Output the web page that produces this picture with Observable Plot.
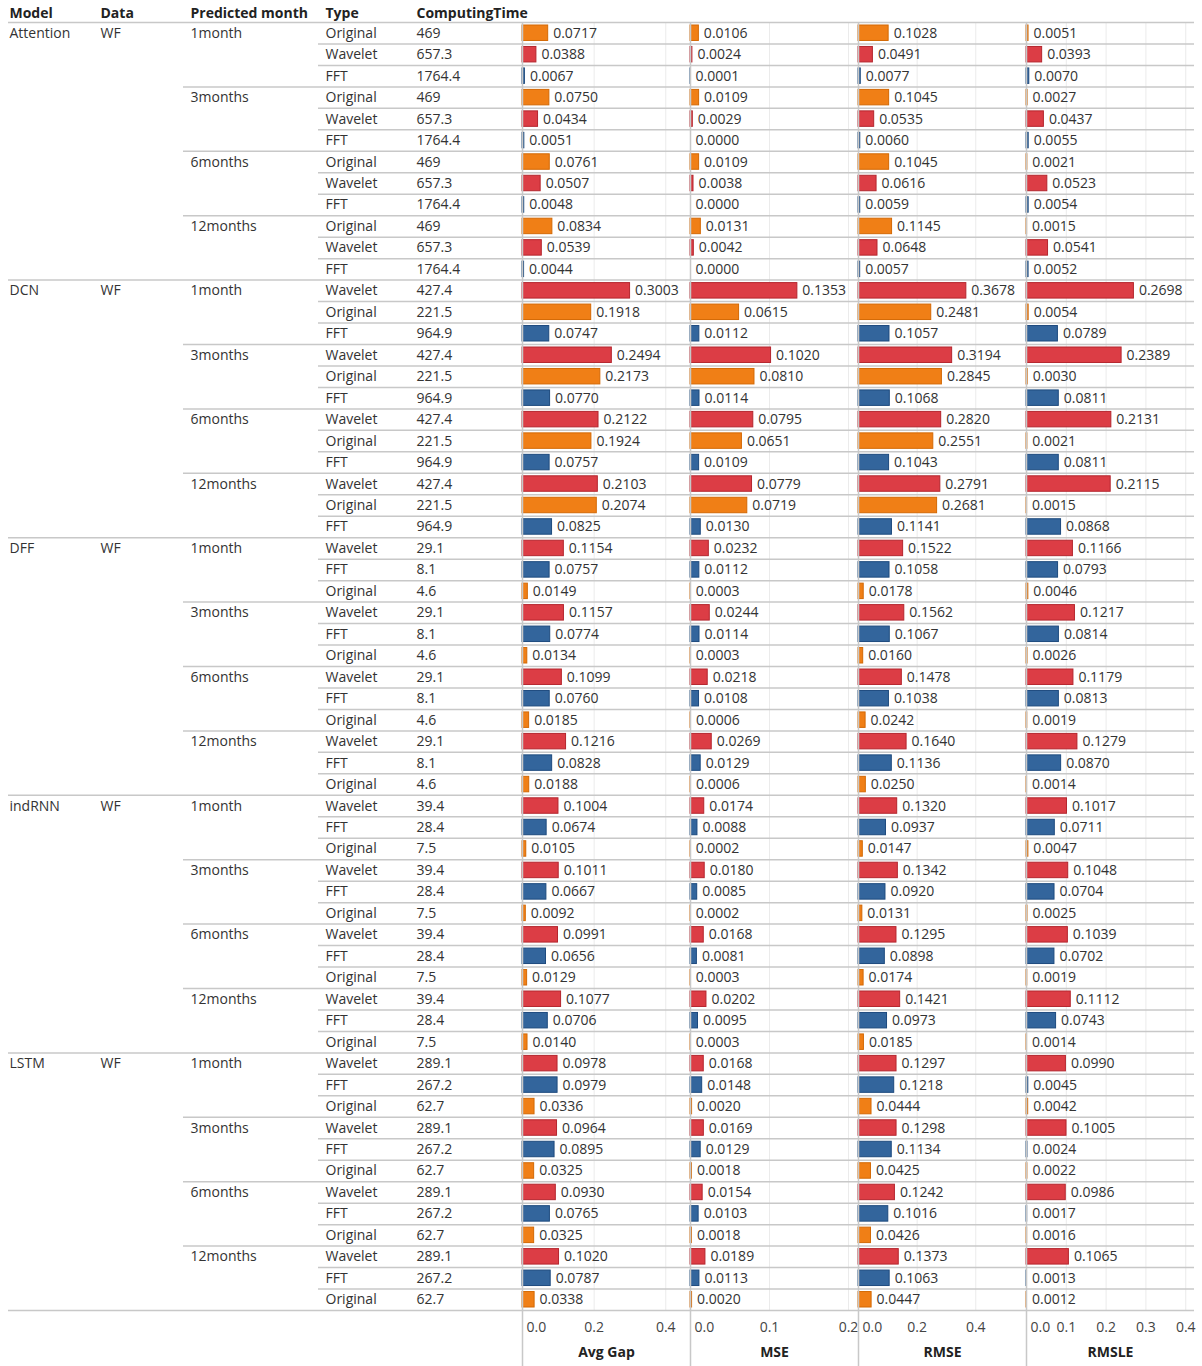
<!DOCTYPE html>
<html>
<head>
<meta charset="utf-8">
<script src="https://cdn.jsdelivr.net/npm/d3@7"></script>
<script src="https://cdn.jsdelivr.net/npm/@observablehq/plot@0.6"></script>
<style>
  html, body { margin: 0; padding: 0; background: #fff; }
  #chart { display: flex; width: 1202px; height: 1366px; }
  #chart svg { flex: none; overflow: visible; }
</style>
</head>
<body>
<div id="chart"></div>
<script>
// ---------------- DATA ----------------
const models = ["Attention", "DCN", "DFF", "indRNN", "LSTM"];
const dataName = "WF";
const months = ["1month", "3months", "6months", "12months"];
const typeOrder = [
  ["Original", "Wavelet", "FFT"],
  ["Wavelet", "Original", "FFT"],
  ["Wavelet", "FFT", "Original"],
  ["Wavelet", "FFT", "Original"],
  ["Wavelet", "FFT", "Original"]
];
const computingTime = [
  [469, 657.3, 1764.4],
  [427.4, 221.5, 964.9],
  [29.1, 8.1, 4.6],
  [39.4, 28.4, 7.5],
  [289.1, 267.2, 62.7]
];
// values in row order: model > month > type
const avgGap = [
  0.0717, 0.0388, 0.0067,  0.0750, 0.0434, 0.0051,  0.0761, 0.0507, 0.0048,  0.0834, 0.0539, 0.0044,
  0.3003, 0.1918, 0.0747,  0.2494, 0.2173, 0.0770,  0.2122, 0.1924, 0.0757,  0.2103, 0.2074, 0.0825,
  0.1154, 0.0757, 0.0149,  0.1157, 0.0774, 0.0134,  0.1099, 0.0760, 0.0185,  0.1216, 0.0828, 0.0188,
  0.1004, 0.0674, 0.0105,  0.1011, 0.0667, 0.0092,  0.0991, 0.0656, 0.0129,  0.1077, 0.0706, 0.0140,
  0.0978, 0.0979, 0.0336,  0.0964, 0.0895, 0.0325,  0.0930, 0.0765, 0.0325,  0.1020, 0.0787, 0.0338
];
const mse = [
  0.0106, 0.0024, 0.0001,  0.0109, 0.0029, 0.0000,  0.0109, 0.0038, 0.0000,  0.0131, 0.0042, 0.0000,
  0.1353, 0.0615, 0.0112,  0.1020, 0.0810, 0.0114,  0.0795, 0.0651, 0.0109,  0.0779, 0.0719, 0.0130,
  0.0232, 0.0112, 0.0003,  0.0244, 0.0114, 0.0003,  0.0218, 0.0108, 0.0006,  0.0269, 0.0129, 0.0006,
  0.0174, 0.0088, 0.0002,  0.0180, 0.0085, 0.0002,  0.0168, 0.0081, 0.0003,  0.0202, 0.0095, 0.0003,
  0.0168, 0.0148, 0.0020,  0.0169, 0.0129, 0.0018,  0.0154, 0.0103, 0.0018,  0.0189, 0.0113, 0.0020
];
const rmse = [
  0.1028, 0.0491, 0.0077,  0.1045, 0.0535, 0.0060,  0.1045, 0.0616, 0.0059,  0.1145, 0.0648, 0.0057,
  0.3678, 0.2481, 0.1057,  0.3194, 0.2845, 0.1068,  0.2820, 0.2551, 0.1043,  0.2791, 0.2681, 0.1141,
  0.1522, 0.1058, 0.0178,  0.1562, 0.1067, 0.0160,  0.1478, 0.1038, 0.0242,  0.1640, 0.1136, 0.0250,
  0.1320, 0.0937, 0.0147,  0.1342, 0.0920, 0.0131,  0.1295, 0.0898, 0.0174,  0.1421, 0.0973, 0.0185,
  0.1297, 0.1218, 0.0444,  0.1298, 0.1134, 0.0425,  0.1242, 0.1016, 0.0426,  0.1373, 0.1063, 0.0447
];
const rmsle = [
  0.0051, 0.0393, 0.0070,  0.0027, 0.0437, 0.0055,  0.0021, 0.0523, 0.0054,  0.0015, 0.0541, 0.0052,
  0.2698, 0.0054, 0.0789,  0.2389, 0.0030, 0.0811,  0.2131, 0.0021, 0.0811,  0.2115, 0.0015, 0.0868,
  0.1166, 0.0793, 0.0046,  0.1217, 0.0814, 0.0026,  0.1179, 0.0813, 0.0019,  0.1279, 0.0870, 0.0014,
  0.1017, 0.0711, 0.0047,  0.1048, 0.0704, 0.0025,  0.1039, 0.0702, 0.0019,  0.1112, 0.0743, 0.0014,
  0.0990, 0.0045, 0.0042,  0.1005, 0.0024, 0.0022,  0.0986, 0.0017, 0.0016,  0.1065, 0.0013, 0.0012
];
const headers = ["Model", "Data", "Predicted month", "Type", "ComputingTime"];
const metricTitles = ["Avg Gap", "MSE", "RMSE", "RMSLE"];
const avgGapTicks = [0, 0.2, 0.4];
const mseTicks = [0, 0.1, 0.2];
const rmseTicks = [0, 0.2, 0.4];
const rmsleTicks = [0, 0.1, 0.2, 0.3, 0.4];

// ---------------- BUILD ROWS ----------------
const rows = [];
models.forEach((model, m) => {
  months.forEach((month, k) => {
    typeOrder[m].forEach((type, t) => {
      const i = m * 12 + k * 3 + t;
      rows.push({
        i, model, month, type, data: dataName,
        time: computingTime[m][t],
        firstOfModel: k === 0 && t === 0,
        firstOfMonth: t === 0,
        avgGap: avgGap[i], mse: mse[i], rmse: rmse[i], rmsle: rmsle[i]
      });
    });
  });
});

// ---------------- LAYOUT / STYLE ----------------
const H = 1366, MT = 22, MB = 56, W_TABLE = 522, W_PANEL = 168;
const FONT = "'Open Sans', 'Noto Sans', sans-serif";
const style = {fontFamily: FONT, fontSize: "14px", color: "#333", background: "transparent"};
const yScale = {domain: [0, rows.length], reverse: true, axis: null};
const lineColor = "#c8c8c8";
const boundaries = d3.range(0, rows.length + 1);
const kindOf = b => (b % 12 === 0) ? "model" : (b % 3 === 0 ? "month" : "row");
const typeStyles = [
  {name: "Wavelet", fill: "#dc3d45", stroke: "#b4262e"},
  {name: "FFT", fill: "#33659c", stroke: "#1d4a7e"},
  {name: "Original", fill: "#f07f16", stroke: "#d36905"}
];
const fmt4 = d3.format(".4f");
const fmt1 = d3.format(".1f");

// ---------------- TABLE (left) ----------------
const cols = [
  {header: headers[0], dx: 9,   text: "model", filter: d => d.firstOfModel},
  {header: headers[1], dx: 100, text: "data",  filter: d => d.firstOfModel},
  {header: headers[2], dx: 190, text: "month", filter: d => d.firstOfMonth},
  {header: headers[3], dx: 325, text: "type",  filter: d => true},
  {header: headers[4], dx: 416, text: d => String(d.time), filter: d => true}
];
const tableMarks = [
  Plot.ruleY(boundaries.filter(b => kindOf(b) === "row"),   {y: d => d, stroke: lineColor, strokeWidth: 1.5, insetLeft: 318}),
  Plot.ruleY(boundaries.filter(b => kindOf(b) === "month"), {y: d => d, stroke: lineColor, strokeWidth: 1.5, insetLeft: 183}),
  Plot.ruleY(boundaries.filter(b => kindOf(b) === "model"), {y: d => d, stroke: lineColor, strokeWidth: 1.5, insetLeft: 8})
];
cols.forEach(c => {
  tableMarks.push(Plot.text([c.header], {
    text: d => d, frameAnchor: "top-left", lineAnchor: "middle", textAnchor: "start",
    dx: c.dx, dy: -9, fontWeight: "bold", fill: "#222"
  }));
  tableMarks.push(Plot.text(rows.filter(c.filter), {
    y: d => d.i + 0.5, text: c.text, frameAnchor: "left", textAnchor: "start",
    dx: c.dx, fill: "#333"
  }));
});
const table = Plot.plot({
  width: W_TABLE, height: H, marginTop: MT, marginBottom: MB, marginLeft: 0, marginRight: 0,
  y: yScale, style, marks: tableMarks
});

// ---------------- METRIC PANELS ----------------
function panel(key, title, max, ticks) {
  return Plot.plot({
    width: W_PANEL, height: H, marginTop: MT, marginBottom: MB, marginLeft: 0, marginRight: 0,
    x: {domain: [0, max], axis: null},
    y: yScale,
    style,
    marks: [
      Plot.ruleX(ticks.filter(t => t > 0), {x: d => d, stroke: "#ebebeb"}),
      Plot.ruleY(boundaries, {y: d => d, stroke: lineColor, strokeWidth: 1.5}),
      ...typeStyles.map(t => Plot.rect(rows.filter(d => d.type === t.name), {
        x1: () => 0, x2: key, y1: "i", y2: d => d.i + 1,
        insetTop: 3, insetBottom: 3, fill: t.fill, stroke: t.stroke, strokeWidth: 1
      })),
      Plot.ruleX([0], {x: d => d, stroke: lineColor, strokeWidth: 1.5, insetBottom: -MB}),
      Plot.text(rows, {
        x: key, y: d => d.i + 0.5, text: d => fmt4(d[key]),
        textAnchor: "start", dx: 5, fill: "#333"
      }),
      Plot.text(ticks.slice(0, 1), {
        x: d => d, text: d => fmt1(d), frameAnchor: "bottom", lineAnchor: "middle",
        textAnchor: "start", dx: 4, dy: 17, fill: "#444"
      }),
      Plot.text(ticks.slice(1), {
        x: d => d, text: d => fmt1(d), frameAnchor: "bottom", lineAnchor: "middle",
        textAnchor: "middle", dy: 17, fill: "#444"
      }),
      Plot.text([title], {
        text: d => d, frameAnchor: "bottom", lineAnchor: "middle", dy: 42,
        fontWeight: "bold", fill: "#222"
      })
    ]
  });
}

const chart = document.getElementById("chart");
chart.append(
  table,
  panel("avgGap", metricTitles[0], 0.469, avgGapTicks),
  panel("mse", metricTitles[1], 0.2127, mseTicks),
  panel("rmse", metricTitles[2], 0.573, rmseTicks),
  panel("rmsle", metricTitles[3], 0.422, rmsleTicks)
);
</script>
</body>
</html>
